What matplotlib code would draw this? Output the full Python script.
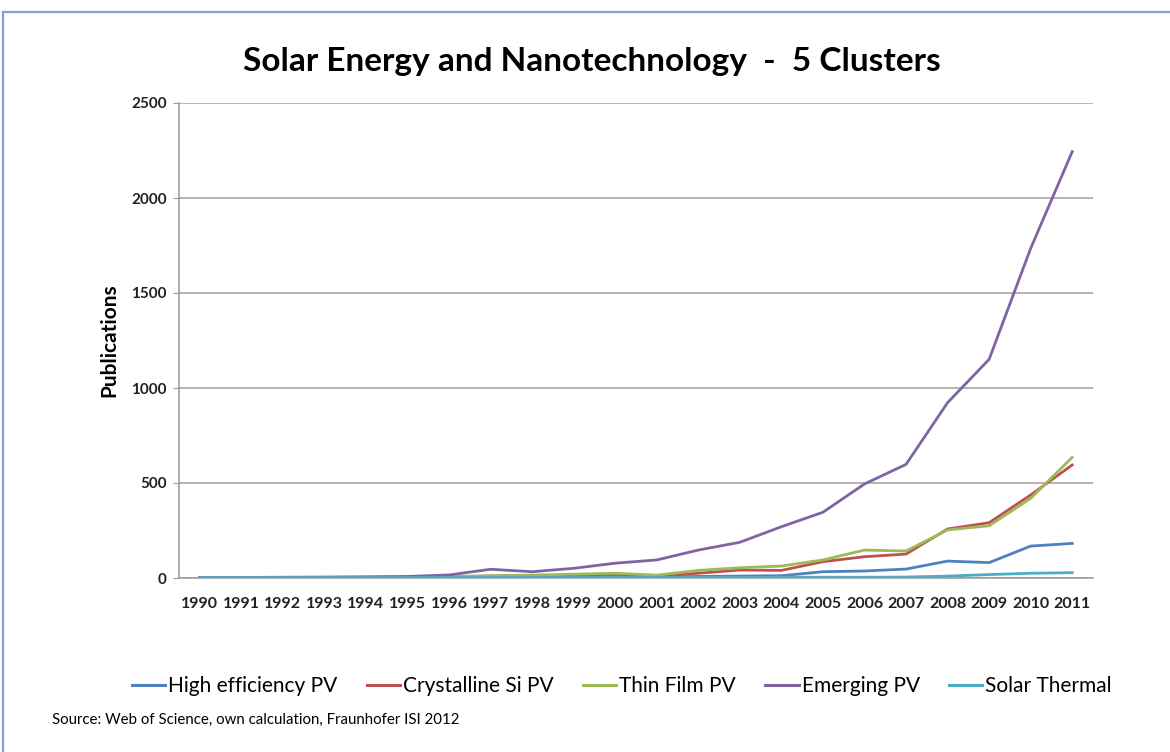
import matplotlib
matplotlib.use("Agg")
import matplotlib.pyplot as plt
from matplotlib.patches import Rectangle
from matplotlib.lines import Line2D

years = [str(y) for y in range(1990, 2012)]
high_efficiency_pv = [3, 3, 3, 3, 4, 4, 5, 6, 6, 7, 8, 6, 8, 10, 12, 33, 37, 47, 89, 81, 168, 182]
crystalline_si_pv = [2, 2, 2, 3, 3, 4, 6, 10, 12, 15, 20, 10, 25, 42, 40, 86, 112, 126, 258, 291, 437, 595]
thin_film_pv = [2, 2, 3, 3, 4, 5, 8, 12, 15, 20, 25, 15, 40, 54, 63, 95, 147, 142, 253, 275, 419, 635]
emerging_pv = [3, 3, 4, 5, 6, 8, 16, 46, 33, 51, 78, 95, 147, 188, 270, 346, 495, 598, 923, 1151, 1735, 2244]
solar_thermal = [2, 2, 2, 2, 2, 2, 3, 3, 3, 3, 3, 3, 3, 3, 4, 4, 4, 5, 10, 18, 25, 28]
series_names = ["High efficiency PV", "Crystalline Si PV", "Thin Film PV", "Emerging PV", "Solar Thermal"]
yticks = [0, 500, 1000, 1500, 2000, 2500]

colors = ["#4F81BD", "#C0504D", "#9BBB59", "#8064A2", "#4BACC6"]
series = [high_efficiency_pv, crystalline_si_pv, thin_film_pv, emerging_pv, solar_thermal]

plt.rcParams['font.family'] = ['Lato', 'DejaVu Sans']

fig = plt.figure(figsize=(11.7, 7.52), dpi=100)
fig.patch.set_facecolor("white")

# outer border
fig.patches.append(Rectangle((3 / 1170, -0.05), 1.2, 1 - 12 / 752 + 0.05,
                             transform=fig.transFigure, fill=False,
                             edgecolor="#7FA2D6", linewidth=1.6))

ax = fig.add_axes([179 / 1170, 1 - 578 / 752, (1093 - 179) / 1170, (578 - 103) / 752])
x = list(range(len(years)))
for vals, c, name in zip(series, colors, series_names):
    ax.plot(x, vals, color=c, linewidth=2.0, label=name, solid_joinstyle="round")

ax.set_xlim(-0.5, len(years) - 0.5)
ax.set_ylim(0, 2500)
ax.set_yticks(yticks)
ax.set_yticklabels([str(v) for v in yticks], fontsize=11, fontweight="bold", color="#222222")
ax.set_xticks(x)
ax.set_xticklabels(years, fontsize=11.5, fontweight="bold", color="#222222")
ax.tick_params(axis="y", length=4, color="#999999", pad=5)
ax.tick_params(axis="x", length=0, pad=14)
ax.grid(axis="y", color="#A0A0A0", linewidth=1.1)
ax.set_axisbelow(True)
for s in ["top", "right"]:
    ax.spines[s].set_visible(False)
for s in ["left", "bottom"]:
    ax.spines[s].set_color("#999999")
    ax.spines[s].set_linewidth(1.1)
ax.set_ylabel("Publications", fontsize=15, fontweight="bold", labelpad=8)

fig.text(592 / 1170, 1 - 62 / 752, "Solar Energy and Nanotechnology  -  5 Clusters",
         ha="center", va="center", fontsize=24, fontweight="bold", color="black")

handles = [Line2D([0], [0], color=c, linewidth=2.2) for c in colors]
fig.legend(handles, series_names, loc="center", bbox_to_anchor=(622 / 1170, 1 - 686 / 752),
           ncol=5, frameon=False, fontsize=15, handlelength=1.6, handletextpad=0.15,
           columnspacing=1.4)

fig.text(52 / 1170, 1 - 720 / 752, "Source: Web of Science, own calculation, Fraunhofer ISI 2012",
         ha="left", va="center", fontsize=10.8, color="black")

fig.savefig("out.png", dpi=100)
